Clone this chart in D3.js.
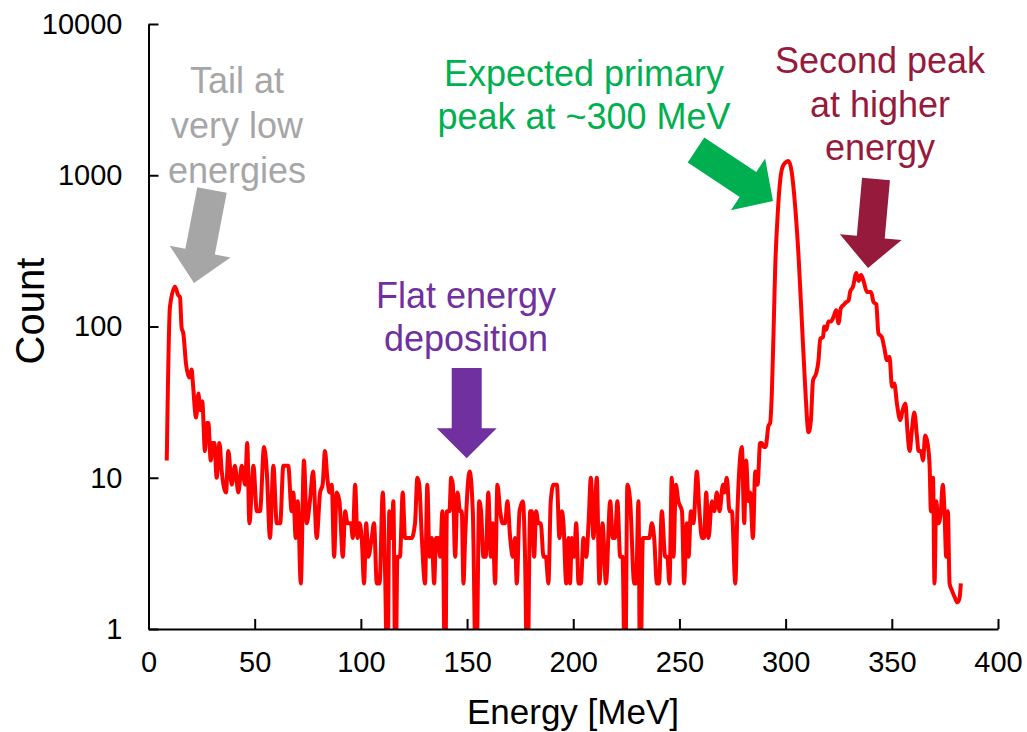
<!DOCTYPE html>
<html><head><meta charset="utf-8">
<script src="https://cdn.jsdelivr.net/npm/d3@7"></script>
<style>body{margin:0;background:#fff} svg{display:block} text{font-family:"Liberation Sans",Arial,sans-serif}</style>
</head><body><svg id="c" width="1027" height="732"></svg>
<script>
// ---- data ----
const energies = [8.6,10.1,12.5,14,14.8,15.6,16.4,17.7,19.2,20.3,20.8,22.4,23.5,24.3,25.3,26.6,27.4,28.2,29.3,30.2,31,32.1,33.4,34.5,36.5,37.6,39.2,40.7,42.3,43.9,45.5,46.5,47.5,49.4,51,52.5,54.4,55.7,57.2,58.8,60.4,62,63.5,65.8,67.4,68.2,69.3,70.3,71.7,73.2,74.5,76,77.5,79.2,80.8,82,83.1,84.2,85.2,86.3,87.4,88.6,89.9,91.5,92.6,93.7,95.3,96.2,97.3,98.4,99.3,100.4,101.5,102.5,103.5,105.1,106.2,107.5,108.8,110.3,111.5,112.5,113.4,114.5,115.3,116.3,117.2,118.4,119.7,120.8,122.4,123.9,125.5,126.6,127.5,128.7,130.2,131.3,132.3,133.4,134.5,135.4,136.4,137.3,138.4,139.7,140.5,141.7,142.5,143.3,144.4,145.5,146.7,147.5,148.3,149.1,151.2,152.7,154.3,155.7,156.6,157.7,158.8,160,161.2,162.1,163.2,164.3,165.6,166.7,167.9,169,170.3,171.5,172.6,173.4,174.7,176.3,177.3,178.4,179.7,180.5,181.6,182.5,183.6,184.7,186,187.1,188.3,189.4,190.7,192.3,193.5,194.6,195.4,196.7,197.8,198.5,199.3,200.4,201.4,202.5,203.6,204.8,206.1,207.2,208.3,209.5,211.1,212.3,213.8,215.4,217.4,218.6,219.6,220.8,222.1,223.2,224.4,225.5,226.8,228.7,229.6,230.7,231.5,232.8,234.7,235.8,237,238.1,239.4,240.4,241.7,243.3,244.3,245.3,246.4,247.2,248.3,249.5,251.2,252.2,253.5,254.3,255.4,256.6,258.2,259.4,260.6,261.6,262.6,263.7,265.3,266.4,267.6,268.9,270.5,271.2,272.3,273.6,274.7,276.3,277.3,279.4,280.5,281.4,282.5,283.3,284.6,285.7,286.8,288,288.8,289.7,290.6,291.9,292.7,293.5,294.3,295.1,296.2,297.5,299,301.4,303,304.5,306.1,307.7,309.2,310.8,311.9,312.9,314.4,315.5,316.3,317.6,318.2,319.1,320.2,321.3,322.6,323.8,324.9,326,327.3,328.5,329.6,330.4,331.7,333.3,334.4,335.5,336.7,338.3,340.2,341.4,342.7,343.7,345.3,346.4,347.7,348.9,350.1,351.2,352.4,354,355.1,356.4,357.4,358.4,359.5,360.6,361.8,362.6,363.7,364.7,365.7,366.8,367.8,368.4,369.4,370.1,370.9,372,373.1,374,374.8,375.6,376.4,377.2,378.3,379.8,380.9,381.9,382.5];
const counts = [13,135,183,161,157,98,90,56,46,52,44,25,36,28,32,15,23,23,13,17,17,10,17,11,8,15,9,12,8,12,9,17,5,12,6,6,16,11,4,12,5,5,12,12,6,8,4,7,2,13,5,7,11,4,8,9,15,10,8,9,3,8,7,3,6,5,5,4,9,4,5,4,2,5,3,4,5,2,2,8,2,0,6,4,7,0,3,3,8,4,4,4,5,10,9,4,2,9,3,4,2,4,4,3,6,0,6,6,10,9,3,8,6,6,2,4,11,6,0,7,6,3,3,8,3,5,2,9,6,5,5,7,4,3,4,2,6,7,3,0,6,6,3,6,5,5,3,3,2,7,9,9,4,6,5,2,4,2,4,3,5,2,2,4,3,5,10,4,10,2,5,2,7,4,4,7,3,3,0,9,7,2,2,7,0,4,4,4,5,4,2,2,6,3,3,2,10,3,9,7,6,2,5,3,6,5,11,6,4,4,8,4,7,6,8,6,9,8,10,6,6,2,6,16,5,13,7,8,4,11,9,17,17,16,16,22,23,36,90,247,530,940,1170,1240,1020,620,290,104,40,20,24,44,49,60,83,85,100,95,108,108,116,128,105,132,139,145,148,170,183,226,200,219,200,169,169,145,140,90,85,73,60,63,40,42,31,24,28,31,20,15,21,27,19,15,15,13,19,17,12,6,10,2,7,5,6,9,6,3,6,2,1.8,1.6,1.5,1.6,2];
const xTicks = [0,50,100,150,200,250,300,350,400];
const yTicks = [1,10,100,1000,10000];
const xTitle = "Energy [MeV]";
const yTitle = "Count";
const notes = [
  {lines:["Tail at","very low","energies"], color:"#A6A6A6"},
  {lines:["Expected primary","peak at ~300 MeV"], color:"#00B050"},
  {lines:["Second peak","at higher","energy"], color:"#961A3C"},
  {lines:["Flat energy","deposition"], color:"#7030A0"}
];

// ---- layout ----
const svg = d3.select("#c");
const x = d3.scaleLinear().domain([0,400]).range([148.5,998]);
const y = d3.scaleLog().domain([1,10000]).range([629,24]);

svg.append("clipPath").attr("id","clip").append("rect")
  .attr("x",148.5).attr("y",0).attr("width",998-148.5).attr("height",629);

const line = d3.line()
  .x(i => x(energies[i]))
  .y(i => y(Math.max(counts[i],0.35)))
  .curve(d3.curveMonotoneX);
svg.append("path").attr("clip-path","url(#clip)")
  .attr("d", line(d3.range(energies.length)))
  .attr("fill","none").attr("stroke","#FF0000").attr("stroke-width",4)
  .attr("stroke-linejoin","round");

// axes
const gx = svg.append("g").attr("transform","translate(0,629)")
  .call(d3.axisBottom(x).tickValues(xTicks).tickSizeInner(-10).tickSizeOuter(0).tickPadding(22));
const gy = svg.append("g").attr("transform","translate(148.5,0)")
  .call(d3.axisLeft(y).tickValues(yTicks).tickFormat(d3.format("d")).tickSizeInner(-10).tickSizeOuter(0).tickPadding(26));
[gx,gy].forEach(g=>{
  g.select(".domain").attr("stroke","#000").attr("stroke-width",2);
  g.selectAll(".tick line").attr("stroke","#000").attr("stroke-width",2);
  g.selectAll(".tick text").attr("fill","#000").style("font-size","29px").style("font-family",'"Liberation Sans",Arial,sans-serif');
});

svg.append("text").attr("x",573).attr("y",724).attr("text-anchor","middle")
  .style("font-size","35px").text(xTitle);
svg.append("text").attr("transform","translate(44,311) rotate(-90)").attr("text-anchor","middle")
  .style("font-size","40px").text(yTitle);

// annotation text
const notePos = [
  {x:237, y:93, dy:45},
  {x:584, y:86, dy:43},
  {x:880, y:73, dy:43.5},
  {x:466, y:308, dy:43}
];
notes.forEach((n,k)=>{
  const p = notePos[k];
  n.lines.forEach((t,j)=>{
    svg.append("text").attr("x",p.x).attr("y",p.y+j*p.dy).attr("text-anchor","middle")
      .attr("fill",n.color).style("font-size","36px").text(t);
  });
});

// block arrows
function arrow(x0,y0,x1,y1,sw,hw,hl,color){
  const L = Math.hypot(x1-x0,y1-y0), ux=(x1-x0)/L, uy=(y1-y0)/L, px=-uy, py=ux;
  const bx = x1-ux*hl, by = y1-uy*hl;
  const pts = [
    [x0+px*sw/2, y0+py*sw/2],[bx+px*sw/2, by+py*sw/2],[bx+px*hw/2, by+py*hw/2],
    [x1,y1],[bx-px*hw/2, by-py*hw/2],[bx-px*sw/2, by-py*sw/2],[x0-px*sw/2, y0-py*sw/2]];
  svg.append("polygon").attr("points",pts.map(p=>p.join(",")).join(" ")).attr("fill",color);
}
arrow(212,190,194,283,30,62,32,notes[0].color);
arrow(696,150,773,201,30,62,30,notes[1].color);
arrow(876,179,868,268,28,62,31,notes[2].color);
arrow(466.7,368,466.7,458.3,30,60,30,notes[3].color);
</script></body></html>
